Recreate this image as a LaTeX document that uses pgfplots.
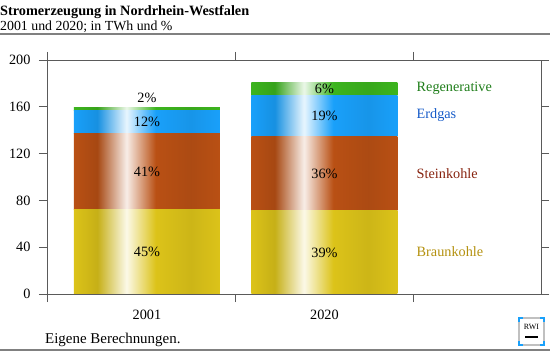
\documentclass[border=0pt]{standalone}
\usepackage{fontspec}
\setmainfont{Liberation Serif}
\usepackage{pgfplots}
\pgfplotsset{compat=1.18}
\definecolor{cY}{RGB}{220,195,25}
\definecolor{cB}{RGB}{185,80,20}
\definecolor{cE}{RGB}{25,160,250}
\definecolor{cR}{RGB}{60,180,30}
\definecolor{tR}{RGB}{30,125,25}
\definecolor{tE}{RGB}{20,90,200}
\definecolor{tB}{RGB}{135,35,15}
\definecolor{tY}{RGB}{180,145,15}
\definecolor{axc}{RGB}{90,90,90}
\pgfdeclarehorizontalshading{shY}{100bp}{color(0bp)=(cY); color(25bp)=(cY); color(33bp)=(cY!90!black); color(43bp)=(cY!10!white); color(53bp)=(cY); color(65bp)=(cY!93!black); color(75bp)=(cY); color(100bp)=(cY)}
\pgfdeclarehorizontalshading{shB}{100bp}{color(0bp)=(cB); color(25bp)=(cB); color(33bp)=(cB!90!black); color(43bp)=(cB!10!white); color(53bp)=(cB); color(65bp)=(cB!93!black); color(75bp)=(cB); color(100bp)=(cB)}
\pgfdeclarehorizontalshading{shE}{100bp}{color(0bp)=(cE); color(25bp)=(cE); color(33bp)=(cE!90!black); color(43bp)=(cE!10!white); color(53bp)=(cE); color(65bp)=(cE!93!black); color(75bp)=(cE); color(100bp)=(cE)}
\pgfdeclarehorizontalshading{shR}{100bp}{color(0bp)=(cR); color(25bp)=(cR); color(33bp)=(cR!90!black); color(43bp)=(cR!10!white); color(53bp)=(cR); color(65bp)=(cR!93!black); color(75bp)=(cR); color(100bp)=(cR)}
\pgfplotsset{base/.style={at={(47bp,58bp)}, anchor=south west, scale only axis,
  width=494bp, height=234bp,
  ymin=0, ymax=200, xmin=-0.563, xmax=2.22,
  ybar stacked, bar width=0.823, clip=false}}
\begin{document}
\begin{tikzpicture}[font=\fontsize{14.3}{16}\selectfont]
\useasboundingbox (0bp,0bp) rectangle (550bp,352bp);
\node[anchor=west,inner sep=0,font=\fontsize{14.3}{16}\selectfont\bfseries] at (0bp,340bp) {Stromerzeugung in Nordrhein-Westfalen};
\node[anchor=west,inner sep=0,font=\fontsize{13.9}{15}\selectfont] at (0bp,325bp) {2001 und 2020; in TWh und \%};
\draw[gray,line width=1.2bp] (0bp,318bp) -- (550bp,318bp);
\draw[gray,line width=1.5bp] (0bp,2bp) -- (550bp,2bp);
\node[anchor=west,inner sep=0,font=\fontsize{15}{17}\selectfont] at (45bp,12bp) {Eigene Berechnungen.};
% RWI logo
\draw[black!70,line width=0.8bp,rounded corners=2bp] (519bp,7bp) rectangle (544bp,34bp);
\draw[cE,line width=1.2bp] (519bp,11bp) -- (519bp,7bp) -- (523bp,7bp);
\draw[cE,line width=1.2bp] (540bp,7bp) -- (544bp,7bp) -- (544bp,11bp);
\draw[cE,line width=1.2bp] (519bp,30bp) -- (519bp,34bp) -- (523bp,34bp);
\draw[cE,line width=1.2bp] (540bp,34bp) -- (544bp,34bp) -- (544bp,30bp);
\node[inner sep=0,font=\fontsize{8}{9}\selectfont] at (531.5bp,25bp) {RWI};
\draw[black,line width=2bp] (525bp,15bp) -- (538bp,15bp);
\begin{axis}[base,
  ytick={0,40,...,200},
  xtick={0,1}, xticklabels={2001,2020},
  xtick style={draw=none},
  extra x ticks={-0.563,0.5,1.5},
  extra x tick labels={},
  extra x tick style={xtick style={draw=axc}},
  tick align=outside, major tick length=8bp,
  tick style={draw=axc, line width=0.8bp},
  axis line style={draw=axc, line width=0.8bp},
  /pgf/number format/assume math mode=true,
  ticklabel style={font=\fontsize{14.3}{16}\selectfont},
  xticklabel style={yshift=-5bp},
  yticklabel style={xshift=-5bp},
]
\addplot[draw=none, shading=shY] coordinates {(0,72)};
\addplot[draw=none, shading=shB] coordinates {(0,65.5)};
\addplot[draw=none, shading=shE] coordinates {(0,19)};
\addplot[draw=none, shading=shR] coordinates {(0,3)};
\end{axis}
\begin{axis}[base, hide axis]
\addplot[draw=none, shading=shY] coordinates {(1,71)};
\addplot[draw=none, shading=shB] coordinates {(1,63.5)};
\addplot[draw=none, shading=shE] coordinates {(1,35)};
\addplot[draw=none, shading=shR] coordinates {(1,11)};
\end{axis}
\begin{axis}[base, hide axis]
\node at (axis cs:0,36) {45\%};
\node at (axis cs:0,104.5) {41\%};
\node at (axis cs:0,147) {12\%};
\node at (axis cs:0,168) {2\%};
\node at (axis cs:1,35.5) {39\%};
\node at (axis cs:1,103) {36\%};
\node at (axis cs:1,152) {19\%};
\node at (axis cs:1,175) {6\%};
\node[anchor=west,text=tR] at (axis cs:1.50,176) {Regenerative};
\node[anchor=west,text=tE] at (axis cs:1.50,153) {Erdgas};
\node[anchor=west,text=tB] at (axis cs:1.50,103) {Steinkohle};
\node[anchor=west,text=tY] at (axis cs:1.50,36) {Braunkohle};
\end{axis}
\end{tikzpicture}
\end{document}
